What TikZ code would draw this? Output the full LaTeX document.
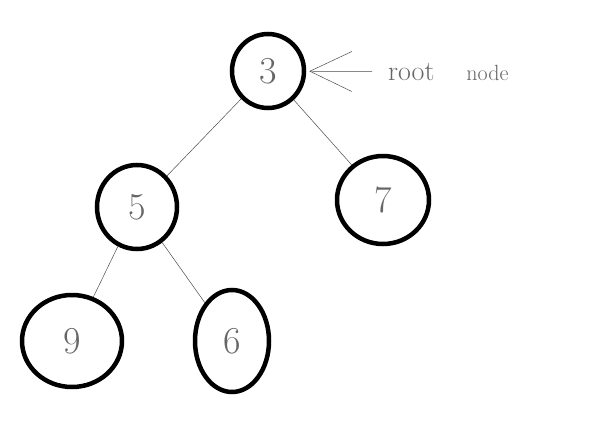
\documentclass[tikz,border=0pt]{standalone}
\usepackage{tikz}
\usetikzlibrary{shapes.geometric, arrows.meta}

\tikzset{
	treenode/.style={draw=black, line width=4.5pt, ellipse, inner sep=0pt, font=\fontsize{38}{38}\selectfont, text=black!60},
	branch/.style={draw=black!70, line width=0.5pt}
}

\begin{document}
\begin{tikzpicture}[x=1pt, y=-1pt]
		\useasboundingbox (0,0) rectangle (592,434);
		\node[treenode, minimum width=72, minimum height=74] (n3) at (268,71) {3};
		\node[treenode, minimum width=80, minimum height=84] (n5) at (137,207) {5};
		\node[treenode, minimum width=92, minimum height=88] (n7) at (383,200) {7};
		\node[treenode, minimum width=100, minimum height=92] (n9) at (72,341) {9};
		\node[treenode, minimum width=74, minimum height=102] (n6) at (232,341) {6};

		\draw[branch] (n3) -- (n5);
		\draw[branch] (n3) -- (n7);
		\draw[branch] (n5) -- (n9);
		\draw[branch] (n5) -- (n6);

		\node[anchor=west, text=black!60, inner sep=0pt] (lbl) at (388,72) {\fontsize{28}{28}\selectfont root\hspace{32pt}{\fontsize{22}{22}\selectfont node}};
		\draw[branch, shorten >=3pt, shorten <=16pt, -{Straight Barb[length=42pt, width=40pt]}] (lbl) -- (n3);
	\end{tikzpicture}
\end{document}
